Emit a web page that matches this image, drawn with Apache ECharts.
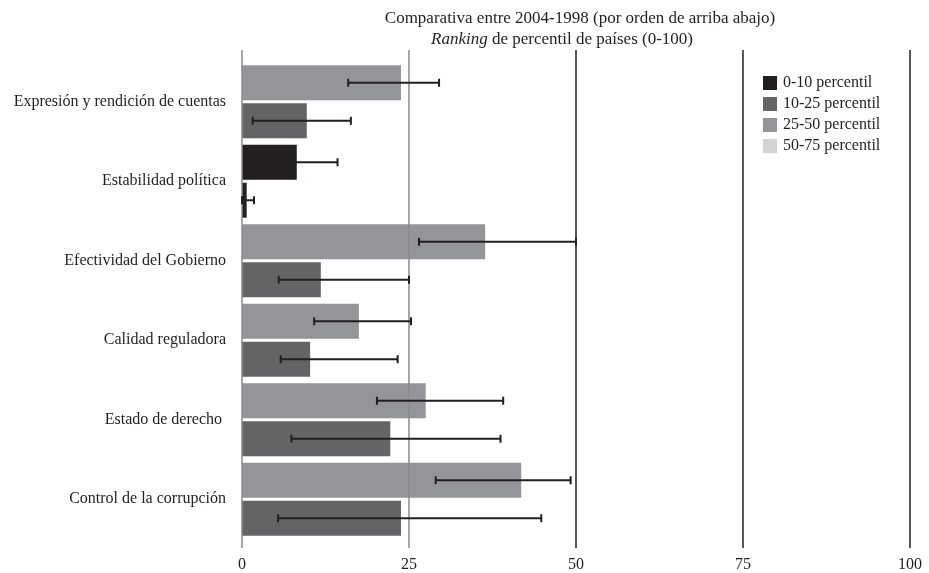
<!DOCTYPE html>
<html>
<head>
<meta charset="utf-8">
<script src="https://cdn.jsdelivr.net/npm/echarts@6/dist/echarts.min.js"></script>
<style>
  html, body { margin: 0; padding: 0; background: #fff; }
  #chart { width: 929px; height: 573px; }
</style>
</head>
<body>
<div id="chart"></div>
<script>
// Governance indicators, percentile rank (0-100): 2004 bar above, 1998 bar below
const categories = [
  'Expresión y rendición de cuentas',
  'Estabilidad política',
  'Efectividad del Gobierno',
  'Calidad reguladora',
  'Estado de derecho ',
  'Control de la corrupción'
];
const values2004 = [23.8, 8.2, 36.4, 17.5, 27.5, 41.8];
const values1998 = [9.7, 0.7, 11.8, 10.2, 22.2, 23.8];
// error-bar ranges (lower, upper)
const low2004  = [15.9, 2.5, 26.5, 10.8, 20.2, 29.0];
const high2004 = [29.5, 14.3, 50.0, 25.3, 39.1, 49.2];
const low1998  = [1.6, 0.0, 5.5, 5.8, 7.4, 5.4];
const high1998 = [16.3, 1.8, 25.0, 23.3, 38.7, 44.8];
// percentile band index of each bar (0: 0-10, 1: 10-25, 2: 25-50, 3: 50-75)
const band2004 = [2, 0, 2, 2, 2, 2];
const band1998 = [1, 0, 1, 1, 1, 1];
const bandNames = ['0-10 percentil', '10-25 percentil', '25-50 percentil', '50-75 percentil'];
const bandColors = ['#231f20', '#646466', '#939598', '#d1d3d4'];
const xTicks = [0, 25, 50, 75, 100];

const serif = '"Liberation Serif", "DejaVu Serif", serif';
const ink = '#231f20';

function barData(values, bands) {
  return values.map((v, i) => ({ value: v, itemStyle: { color: bandColors[bands[i]] } }));
}

function errorSeries(low, high, shift) {
  return {
    type: 'custom',
    xAxisIndex: 0,
    yAxisIndex: 0,
    z: 20,
    data: categories.map((c, i) => [low[i], high[i], i]),
    renderItem: function (params, api) {
      const a = api.coord([api.value(0), api.value(2)]);
      const b = api.coord([api.value(1), api.value(2)]);
      const y = a[1] + shift;
      const cap = 4;
      const style = { stroke: ink, lineWidth: 2 };
      return {
        type: 'group',
        children: [
          { type: 'line', shape: { x1: a[0], y1: y, x2: b[0], y2: y }, style: style },
          { type: 'line', shape: { x1: a[0], y1: y - cap, x2: a[0], y2: y + cap }, style: style },
          { type: 'line', shape: { x1: b[0], y1: y - cap, x2: b[0], y2: y + cap }, style: style }
        ]
      };
    }
  };
}

const chart = echarts.init(document.getElementById('chart'));

const legendSeries = bandNames.map((name, i) => ({
  name: name,
  type: 'bar',
  xAxisIndex: 1,
  yAxisIndex: 1,
  data: [],
  itemStyle: { color: bandColors[i] }
}));

chart.setOption({
  animation: false,
  backgroundColor: '#ffffff',
  title: [
    {
      text: 'Comparativa entre 2004-1998 (por orden de arriba abajo)',
      left: 575,
      top: 5,
      textAlign: 'center',
      textStyle: { fontFamily: serif, fontSize: 17, fontWeight: 'normal', color: ink }
    },
    {
      text: '{i|Ranking} de percentil de países (0-100)',
      left: 557,
      top: 26,
      textAlign: 'center',
      textStyle: {
        fontFamily: serif, fontSize: 17, fontWeight: 'normal', color: ink,
        rich: { i: { fontFamily: serif, fontSize: 17, fontStyle: 'italic', color: ink } }
      }
    }
  ],
  legend: {
    orient: 'vertical',
    left: 763,
    top: 75,
    padding: 0,
    itemWidth: 14,
    itemHeight: 14,
    itemGap: 5,
    icon: 'rect',
    data: bandNames,
    textStyle: { fontFamily: serif, fontSize: 16, color: ink, padding: [0, 0, 0, 1] }
  },
  grid: [
    { left: 242, right: 19, top: 62, bottom: 34 },
    { left: 242, right: 19, top: 50, bottom: 23 }
  ],
  xAxis: [
    { gridIndex: 0, type: 'value', min: 0, max: 100, show: false },
    {
      gridIndex: 1, type: 'value', min: 0, max: 100, interval: 25, z: 10,
      axisLine: { show: false },
      axisTick: { show: false },
      axisLabel: {
        margin: 9, fontFamily: serif, fontSize: 16, color: ink,
        formatter: v => xTicks.includes(v) ? String(v) : ''
      },
      splitLine: {
        show: true,
        lineStyle: { width: 1.5, color: ['#8a8a8c', '#8a8a8c', ink, ink, ink] }
      }
    }
  ],
  yAxis: [
    {
      gridIndex: 0, type: 'category', inverse: true, data: categories,
      axisLine: { show: false },
      axisTick: { show: false },
      splitLine: { show: false },
      axisLabel: { margin: 16, fontFamily: serif, fontSize: 16, color: ink, padding: [5, 0, 0, 0] }
    },
    { gridIndex: 1, type: 'category', data: [], show: false }
  ],
  series: [
    {
      name: '2004', type: 'bar', xAxisIndex: 0, yAxisIndex: 0,
      barWidth: 35, barGap: '8.6%',
      data: barData(values2004, band2004)
    },
    {
      name: '1998', type: 'bar', xAxisIndex: 0, yAxisIndex: 0,
      barWidth: 35, barGap: '8.6%',
      data: barData(values1998, band1998)
    },
    errorSeries(low2004, high2004, -19),
    errorSeries(low1998, high1998, 19),
    ...legendSeries
  ]
});
</script>
</body>
</html>
